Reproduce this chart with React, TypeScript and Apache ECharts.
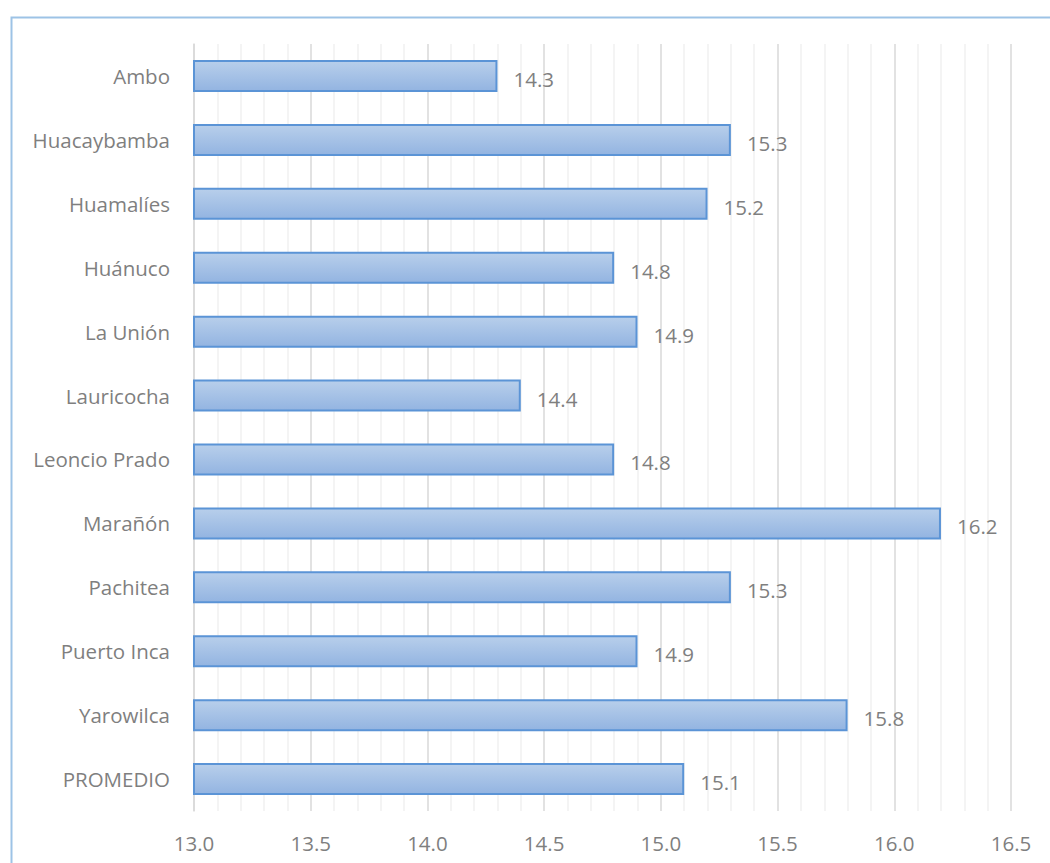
import React, { useEffect, useRef } from "react";
import * as echarts from "echarts";

const categories = [
  "Ambo",
  "Huacaybamba",
  "Huamalíes",
  "Huánuco",
  "La Unión",
  "Lauricocha",
  "Leoncio Prado",
  "Marañón",
  "Pachitea",
  "Puerto Inca",
  "Yarowilca",
  "PROMEDIO",
];
const values = [14.3, 15.3, 15.2, 14.8, 14.9, 14.4, 14.8, 16.2, 15.3, 14.9, 15.8, 15.1];
const axisMin = 13.0;
const axisMax = 16.5;
const axisStep = 0.5;

const FONT = "'Open Sans', 'DejaVu Sans', sans-serif";
const GRAY = "#7f7f7f";

export default function App() {
  const ref = useRef<HTMLDivElement>(null);
  useEffect(() => {
    if (!ref.current) return;
    const chart = echarts.init(ref.current, undefined, { renderer: "svg" });
    chart.setOption({
      animation: false,
      backgroundColor: "#ffffff",
      textStyle: { fontFamily: FONT },
      graphic: [
        {
          type: "rect",
          left: 9,
          top: 15,
          shape: { width: 1100, height: 900 },
          style: { fill: "none", stroke: "#9dc3e6", lineWidth: 2 },
          silent: true,
        },
      ],
      grid: { left: 194, right: 39, top: 44, bottom: 52, containLabel: false },
      xAxis: {
        type: "value",
        min: axisMin,
        max: axisMax,
        interval: axisStep,
        axisLine: { show: false },
        axisTick: { show: false },
        axisLabel: {
          color: GRAY,
          fontSize: 20.5,
          fontFamily: FONT,
          margin: 21,
          formatter: (v: number) => v.toFixed(1),
        },
        splitLine: { show: true, lineStyle: { color: "#d9d9d9", width: 1.5 } },
        minorTick: { show: false, splitNumber: 5 },
        minorSplitLine: { show: true, lineStyle: { color: "#f0f0f0", width: 1.5 } },
      },
      yAxis: {
        type: "category",
        data: categories,
        inverse: true,
        axisLine: { show: true, lineStyle: { color: "#d9d9d9", width: 1.5 } },
        axisTick: { show: false },
        axisLabel: { color: GRAY, fontSize: 20.5, fontFamily: FONT, margin: 24 },
        splitLine: { show: false },
      },
      series: [
        {
          type: "bar",
          data: values,
          barWidth: 32,
          itemStyle: {
            color: new echarts.graphic.LinearGradient(0, 0, 0, 1, [
              { offset: 0, color: "#b8cfeb" },
              { offset: 1, color: "#93b4e1" },
            ]),
            borderColor: "#5b94d6",
            borderWidth: 2,
          },
          label: {
            show: true,
            position: "right",
            distance: 16,
            offset: [0, 3],
            color: GRAY,
            fontSize: 20.5,
            fontFamily: FONT,
            formatter: (p: any) => Number(p.value).toFixed(1),
          },
        },
      ],
    });
    return () => chart.dispose();
  }, []);
  return (
    <div
      ref={ref}
      style={{ position: "absolute", left: 0, top: 0, width: 1050, height: 863 }}
    />
  );
}
